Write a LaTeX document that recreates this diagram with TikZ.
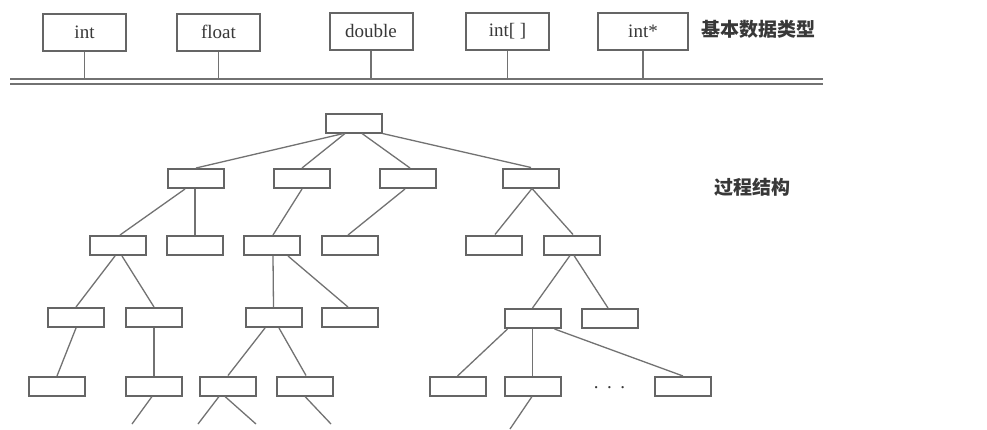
\documentclass[tikz,border=0pt]{standalone}
\usepackage{fontspec}
\setmainfont{Liberation Serif}
\newfontfamily\cjk{Noto Sans CJK SC}
\begin{document}
\begin{tikzpicture}[x=1pt,y=-1pt,
  dbox/.style={draw=boxgray,line width=2pt,minimum width=83pt,minimum height=37pt,inner sep=0pt,font=\fontsize{19}{22}\selectfont,text=txtgray},
  tbox/.style={draw=boxgray,line width=2pt,minimum width=56pt,minimum height=19pt,inner sep=0pt},
  edge/.style={draw=linegray,line width=1.3pt},
  bus/.style={draw=linegray,line width=1.4pt},
  lbl/.style={font=\cjk\bfseries\fontsize{19}{22}\selectfont,text=txtgray,inner sep=0pt}]
\definecolor{boxgray}{HTML}{656565}
\definecolor{linegray}{HTML}{727272}
\definecolor{txtgray}{HTML}{383838}
\useasboundingbox (0,0) rectangle (987,429);
\fill[white] (0,0) rectangle (987,429);

% data type row
\node[dbox] (int) at (84.5,32.5) {int};
\node[dbox] (float) at (218.5,32) {float};
\node[dbox] (double) at (371,31) {double};
\node[dbox] (arr) at (507.5,31) {int[ ]};
\node[dbox,minimum width=90pt] (ptr) at (643,31.5) {int*};
\node[lbl] (basic) at (758,29.5) {基本数据类型};

\coordinate (busL1) at (10,79);
\coordinate (busR1) at (823,79);
\coordinate (busL2) at (10,84);
\coordinate (busR2) at (823,84);
\draw[bus] (busL1) -- (busR1);
\draw[bus] (busL2) -- (busR2);
\foreach \n in {int,float,double,arr,ptr}
  \draw[edge] (\n.south) -- (\n.south |- busL1);

% tree
\node[tbox] (root) at (353.5,123) {};
\node[tbox] (A) at (196,178.5) {};
\node[tbox] (B) at (302,178.5) {};
\node[tbox] (C) at (408,178.5) {};
\node[tbox] (D) at (531,178) {};
\node[tbox] (E) at (118,245.5) {};
\node[tbox] (F) at (195,245.5) {};
\node[tbox] (G) at (272,245.5) {};
\node[tbox] (H) at (350,245.5) {};
\node[tbox] (I) at (494,245) {};
\node[tbox] (J) at (572,245) {};
\node[tbox] (K) at (76,317.5) {};
\node[tbox] (L) at (154,317.5) {};
\node[tbox] (M) at (273.5,317.5) {};
\node[tbox] (N) at (350,317.5) {};
\node[tbox] (O) at (532.5,318.5) {};
\node[tbox] (P) at (610,318.5) {};
\node[tbox] (Q) at (56.5,386.5) {};
\node[tbox] (R) at (153.5,386) {};
\node[tbox] (S) at (228,386) {};
\node[tbox] (T) at (305,386) {};
\node[tbox] (U) at (457.5,386.5) {};
\node[tbox] (V) at (533,386) {};
\node[tbox] (W) at (683,386.5) {};
\node[font=\fontsize{19}{22}\selectfont,text=txtgray,anchor=base,inner sep=0pt] (dots) at (609.5,388.5) {.\hspace{8.5pt}.\hspace{8.5pt}.};
\node[lbl] (proc) at (752,187) {过程结构};

% dangling ends
\coordinate (r1) at (132,424);
\coordinate (s1) at (198,424);
\coordinate (s2) at (256,424);
\coordinate (t1) at (331,424);
\coordinate (v1) at (510,429);

\draw[edge] ([xshift=-10pt]root.south) -- (A.north);
\draw[edge] ([xshift=-8.5pt]root.south) -- (B.north);
\draw[edge] ([xshift=8.5pt]root.south) -- ([xshift=2pt]C.north);
\draw[edge] (root.south east) -- (D.north);
\draw[edge] ([xshift=-11pt]A.south) -- ([xshift=2pt]E.north);
\draw[edge] ([xshift=-1pt]A.south) -- (F.north);
\draw[edge] (B.south) -- ([xshift=1pt]G.north);
\draw[edge] ([xshift=-3pt]C.south) -- ([xshift=-2pt]H.north);
\draw[edge] ([xshift=1pt]D.south) -- ([xshift=1pt]I.north);
\draw[edge] ([xshift=1pt]D.south) -- ([xshift=1pt]J.north);
\draw[edge] ([xshift=-3pt]E.south) -- (K.north);
\draw[edge] ([xshift=4pt]E.south) -- (L.north);
\draw[edge] ([xshift=1pt]G.south) -- (M.north);
\draw[edge] ([xshift=16pt]G.south) -- ([xshift=-2pt]N.north);
\draw[edge] ([xshift=-2pt]J.south) -- (O.north);
\draw[edge] ([xshift=2pt]J.south) -- ([xshift=-2pt]P.north);
\draw[edge] (K.south) -- ([xshift=0.5pt]Q.north);
\draw[edge] (L.south) -- (R.north -| L.south);
\draw[edge] ([xshift=-8.5pt]M.south) -- (S.north);
\draw[edge] ([xshift=5.5pt]M.south) -- ([xshift=1pt]T.north);
\draw[edge] ([xshift=-25pt]O.south) -- (U.north);
\draw[edge] (O.south) -- (V.north -| O.south);
\draw[edge] ([xshift=-7pt]O.south east) -- (W.north);
\draw[edge] ([xshift=-1.5pt]R.south) -- (r1);
\draw[edge] ([xshift=-9pt]S.south) -- (s1);
\draw[edge] ([xshift=-3pt]S.south) -- (s2);
\draw[edge] (T.south) -- (t1);
\draw[edge] ([xshift=-1pt]V.south) -- (v1);
\end{tikzpicture}
\end{document}
